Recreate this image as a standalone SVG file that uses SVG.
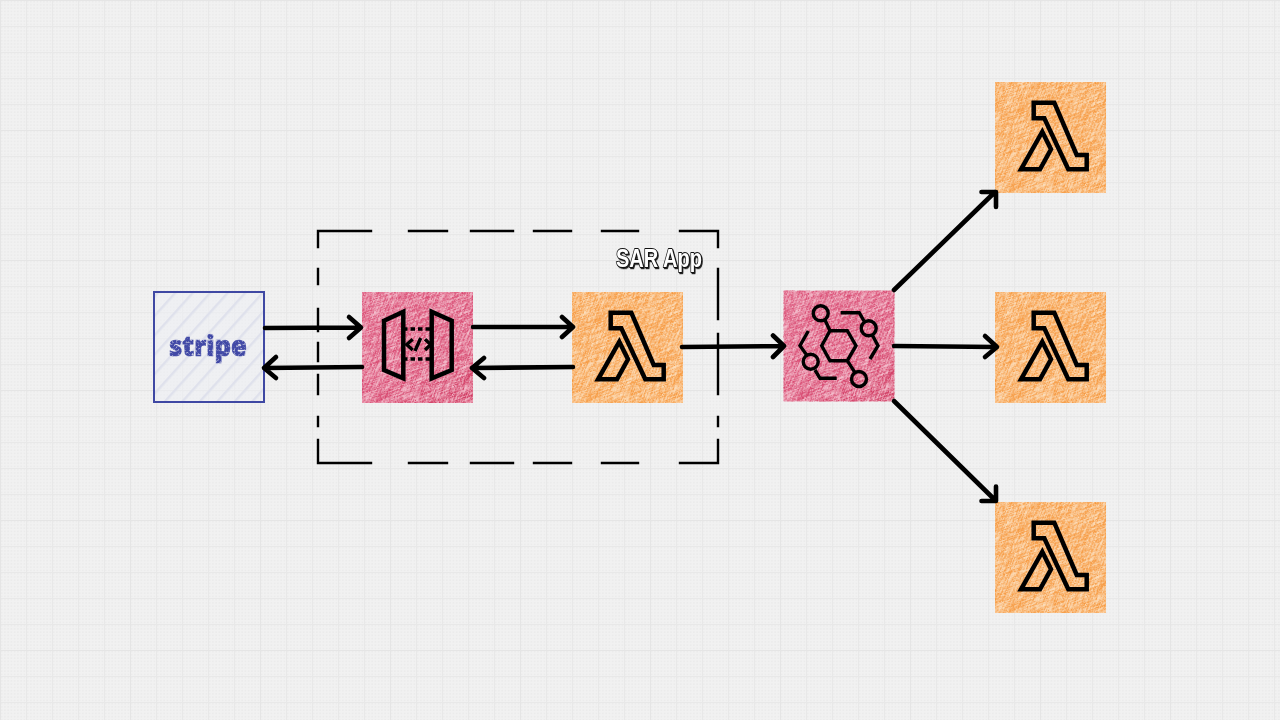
<svg xmlns="http://www.w3.org/2000/svg" width="1280" height="720" viewBox="0 0 1280 720">
<style>
.ln{fill:none;stroke:#000;stroke-width:4.6;stroke-linecap:round;stroke-linejoin:round}
.ic{fill:none;stroke:#000;stroke-width:4.5;stroke-linejoin:miter;stroke-linecap:butt}
.ic3{fill:none;stroke:#000;stroke-width:3.4;stroke-linejoin:miter;stroke-linecap:butt}
.dash{fill:none;stroke:#000;stroke-width:2.4;stroke-linecap:square}
</style>
<defs>
<pattern id="dots" width="3.25" height="3.25" patternUnits="userSpaceOnUse"><rect width="3.25" height="3.25" fill="#f1f1f1"/><rect x="1" y="1" width="1.3" height="1.3" fill="#e9e9e9"/></pattern>
<pattern id="grid" width="26" height="26" patternUnits="userSpaceOnUse"><path d="M0.5 0V26M0 0.5H26" stroke="#e8e8e8" stroke-width="1" fill="none"/></pattern>
<pattern id="major" width="130" height="130" patternUnits="userSpaceOnUse"><path d="M0.5 0V130M0 0.5H130" stroke="#e5e5e5" stroke-width="1" fill="none"/></pattern>
<pattern id="hatch" width="13" height="13" patternUnits="userSpaceOnUse" patternTransform="rotate(-48)"><rect width="13" height="13" fill="#eef0f6" fill-opacity="0.5"/><rect width="13" height="2.4" fill="#dfe1ec"/></pattern>
<linearGradient id="pinkG" x1="0" y1="0" x2="0" y2="1"><stop offset="0" stop-color="#d94a72"/><stop offset="0.6" stop-color="#d63f69"/><stop offset="1" stop-color="#c62049"/></linearGradient>
<clipPath id="clip"><rect width="111" height="111"/></clipPath>
<filter id="pencil" x="0" y="0" width="1" height="1" color-interpolation-filters="sRGB">
<feTurbulence type="fractalNoise" baseFrequency="0.05 0.7" numOctaves="3" seed="7" result="streak"/>
<feColorMatrix in="streak" type="matrix" values="0 0 0 0 0 0 0 0 0 0 0 0 0 0 0 4 0 0 0 -1.5" result="a1"/>
<feTurbulence type="fractalNoise" baseFrequency="1.1" numOctaves="2" seed="3" result="grain"/>
<feColorMatrix in="grain" type="matrix" values="0 0 0 0 0 0 0 0 0 0 0 0 0 0 0 4 0 0 0 -1.5" result="a2"/>
<feComposite in="a1" in2="a2" operator="arithmetic" k1="1" k2="0.15" k3="0" k4="0" result="a"/>
<feComposite in="SourceGraphic" in2="a" operator="in"/>
</filter>
<filter id="inkgrain" x="-5%" y="-5%" width="110%" height="110%" color-interpolation-filters="sRGB">
<feTurbulence type="fractalNoise" baseFrequency="0.5" numOctaves="2" seed="5"/>
<feColorMatrix type="matrix" values="0 0 0 0 0 0 0 0 0 0 0 0 0 0 0 2.5 0 0 0 -0.25" result="n"/>
<feComposite in="SourceGraphic" in2="n" operator="in"/>
</filter>
<filter id="shadow" x="-10%" y="-20%" width="120%" height="140%" color-interpolation-filters="sRGB">
<feDropShadow dx="1" dy="1.2" stdDeviation="0.3" flood-color="#222"/>
</filter>
<g id="texO" clip-path="url(#clip)">
<rect width="111" height="111" fill="#fcdcb8"/>
<rect x="-40" y="-40" width="191" height="191" fill="#f6953a" fill-opacity="0.85" filter="url(#pencil)" transform="rotate(-68 55.5 55.5)"/>
<rect x="-40" y="-40" width="191" height="191" fill="#f6953a" fill-opacity="0.85" filter="url(#pencil)" transform="rotate(-20 55.5 55.5)"/>
</g>
<g id="texP" clip-path="url(#clip)">
<rect width="111" height="111" fill="#f3bccb"/>
<rect x="-40" y="-40" width="191" height="191" fill="url(#pinkG)" fill-opacity="0.85" filter="url(#pencil)" transform="rotate(-68 55.5 55.5)"/>
<rect x="-40" y="-40" width="191" height="191" fill="url(#pinkG)" fill-opacity="0.85" filter="url(#pencil)" transform="rotate(-20 55.5 55.5)"/>
</g>
<g id="lam">
<path class="ic" d="M38.7 20.7H59.3L81.7 73H91.7V87.3H73.3L49.3 36.3H38.7Z"/>
<path class="ic" d="M26 87.3L47.3 49.7L56 67.3L45 87.3Z"/>
</g>
</defs>
<rect width="1280" height="720" fill="url(#dots)"/>
<rect width="1280" height="720" fill="url(#grid)"/>
<rect width="1280" height="720" fill="url(#major)"/>

<g id="sar-app-boundary">
<path class="dash" d="M318 247V231H371M409 231H447M471 231H513M534 231H571M602 231H638M680 231H718V247"/>
<path class="dash" d="M318 269V284M318 309V331M318 343V361M318 375V394M318 417V426M318 440V463H371M409 463H447M471 463H513M534 463H571M602 463H638M680 463H718V440M718 426V417M718 394V334M718 319V269"/>
<text x="616" y="267" font-family="'Liberation Sans',Arial,sans-serif" font-weight="700" font-size="26" textLength="86" lengthAdjust="spacingAndGlyphs" fill="#fff" stroke="#111" stroke-width="1.8" stroke-linejoin="round" paint-order="stroke" filter="url(#shadow)">SAR App</text>
</g>

<g id="stripe">
<rect x="154" y="292" width="110" height="110" fill="url(#hatch)" stroke="#3f48a3" stroke-width="2"/>
<text x="169" y="356" font-family="'Open Sans','Liberation Sans',sans-serif" font-weight="800" font-size="29" textLength="78" lengthAdjust="spacingAndGlyphs" fill="#4149a6" stroke="#4149a6" stroke-width="0.7" filter="url(#inkgrain)">stripe</text>
</g>

<g id="api-gateway">
<use href="#texP" x="362" y="292"/>
<path class="ic" d="M384 320.7L403.3 311.7V378.3L384 370Z"/>
<path class="ic" d="M431.7 311.7L451.7 320.7V370L431.7 378.3Z"/>
<path class="ic3" stroke-dasharray="4.5 3" d="M403 329H432M403 359H432"/>
<path class="ic3" d="M412.7 339.3L406.7 344.5L412.7 350M425 339.3L430.7 344.5L425 350M420.7 338L415 351"/>
</g>

<g id="lambda-sar">
<use href="#texO" x="572" y="292"/>
<use href="#lam" x="572" y="292"/>
</g>

<g id="eventbridge">
<use href="#texP" x="783.500" y="290.500"/>
<path class="ic3" d="M830 330.7H847.3L856 345.7L847.3 360.7H830L821.700 345.7Z"/>
<circle class="ic3" cx="820.7" cy="313.3" r="7.5"/>
<circle class="ic3" cx="868.7" cy="328.3" r="7.5"/>
<circle class="ic3" cx="810.7" cy="361.7" r="7.5"/>
<circle class="ic3" cx="859" cy="379" r="7.5"/>
<path class="ic3" d="M825 320L830 330.7M840.7 312.7H859.3L864 321M872.3 335L878 345.7L870 359M808.3 331L800 345.7L806.7 355M815 370L820 378.3H836.7M847.3 360.700L855 372.7"/>
</g>

<g id="lambda-top"><use href="#texO" x="995" y="82"/><use href="#lam" x="995" y="82"/></g>
<g id="lambda-mid"><use href="#texO" x="995" y="292"/><use href="#lam" x="995" y="292"/></g>
<g id="lambda-bottom"><use href="#texO" x="995" y="502"/><use href="#lam" x="995" y="502"/></g>

<g id="connectors">
<path class="ln" d="M265 328L360 327.500M349 317L361 327.500L349 338"/>
<path class="ln" d="M362 367L264 368M276 357L264 368L276 378"/>
<path class="ln" d="M473 327L572 327M562 317L573 327L562 337"/>
<path class="ln" d="M573 367L472 368M484 358L472 368L484 378"/>
<path class="ln" d="M682 347L783 346M773 335.500L784 346L773 357"/>
<path class="ln" d="M894 290L995 192M981.500 192H996V207"/>
<path class="ln" d="M894 346L996 347M985 336L997 347L985 357"/>
<path class="ln" d="M894 401L995 500M996 486.500V501H981.500"/>
</g>
</svg>
